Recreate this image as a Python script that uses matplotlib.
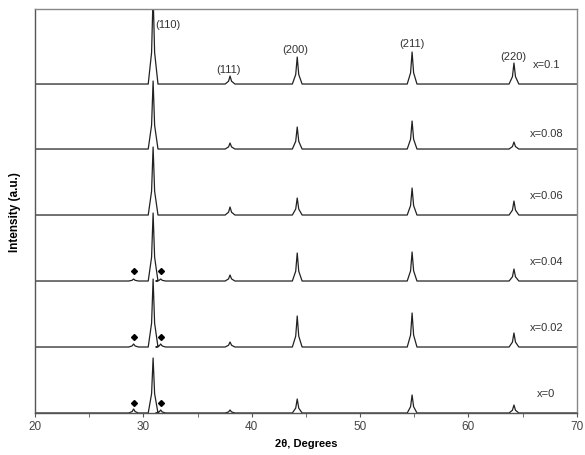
import matplotlib.pyplot as plt
import numpy as np
from matplotlib.ticker import MultipleLocator

plt.rcParams['font.family'] = ['Liberation Sans', 'DejaVu Sans']

# 样品标签 (从上到下)
samples = ['x=0.1', 'x=0.08', 'x=0.06', 'x=0.04', 'x=0.02', 'x=0']
offsets = [329, 264, 198, 132, 66, 0]

# 主衍射峰位置和标签
peak_pos = [30.9, 38.0, 44.2, 54.8, 64.2]
peak_names = ['(110)', '(111)', '(200)', '(211)', '(220)']
peak_label_x = [32.3, 37.9, 44.0, 54.8, 64.1]
peak_label_y = [389, 344, 364, 370, 357]

# 各样品峰强 (a.u.)
heights = [
    [90, 8, 27, 32, 21],
    [68, 6, 22, 28, 7],
    [68, 8, 17, 27, 14],
    [68, 6, 28, 29, 12],
    [68, 5, 31, 34, 14],
    [55, 3, 14, 18, 8],
]

# 杂相峰 (◆)
imp_pos = [29.1, 31.6]
imp_heights = [
    [0, 0],
    [0, 0],
    [0, 0],
    [2, 2],
    [3, 3],
    [4, 3],
]
has_diamond = [False, False, False, True, True, True]

label_dy = [20, 16, 20, 20, 20, 20]


def trace_points(positions, hts):
    """把峰位/峰强转成折线顶点"""
    xs, ys = [20.0], [0.0]
    for p, h in sorted(zip(positions, hts)):
        if h <= 0:
            continue
        xs += [p - 0.45, p - 0.14, p, p + 0.14, p + 0.45]
        ys += [0, h * 0.35, h, h * 0.35, 0]
    xs.append(70.0)
    ys.append(0.0)
    return np.array(xs), np.array(ys)


fig = plt.figure(figsize=(5.85, 4.56), dpi=100)
ax = fig.add_axes([0.0598, 0.0921, 0.9262, 0.8859])

for i, name in enumerate(samples):
    xs, ys = trace_points(peak_pos + imp_pos, heights[i] + imp_heights[i])
    ax.plot(xs, ys + offsets[i], color='#222222', lw=0.9, clip_on=True)
    ax.text(67.2, offsets[i] + label_dy[i], name, fontsize=8,
            color='#333333', ha='center', va='center')
    if has_diamond[i]:
        ax.plot(imp_pos, [offsets[i] + 10] * 2, 'D', color='black',
                markersize=3, ls='none')

for name, lx, ly in zip(peak_names, peak_label_x, peak_label_y):
    ax.text(lx, ly, name, fontsize=8, color='#333333', ha='center', va='center')

ax.set_xlim(20, 70)
ax.set_ylim(0, 404)
ax.xaxis.set_major_locator(MultipleLocator(10))
ax.xaxis.set_minor_locator(MultipleLocator(5))
ax.set_yticks([])
ax.tick_params(axis='x', which='both', direction='out', length=3,
               color='#555555', labelsize=8.5, labelcolor='#444444', pad=2)
for sp in ax.spines.values():
    sp.set_color('#888888')
    sp.set_linewidth(1.0)
ax.spines['left'].set_color('#555555')
ax.spines['bottom'].set_color('#555555')

ax.set_xlabel('2θ, Degrees', fontsize=8, fontweight='bold', labelpad=4)
ax.set_ylabel('Intensity (a.u.)', fontsize=8.5, fontweight='bold', labelpad=10)

fig.savefig('out.png', dpi=100)
